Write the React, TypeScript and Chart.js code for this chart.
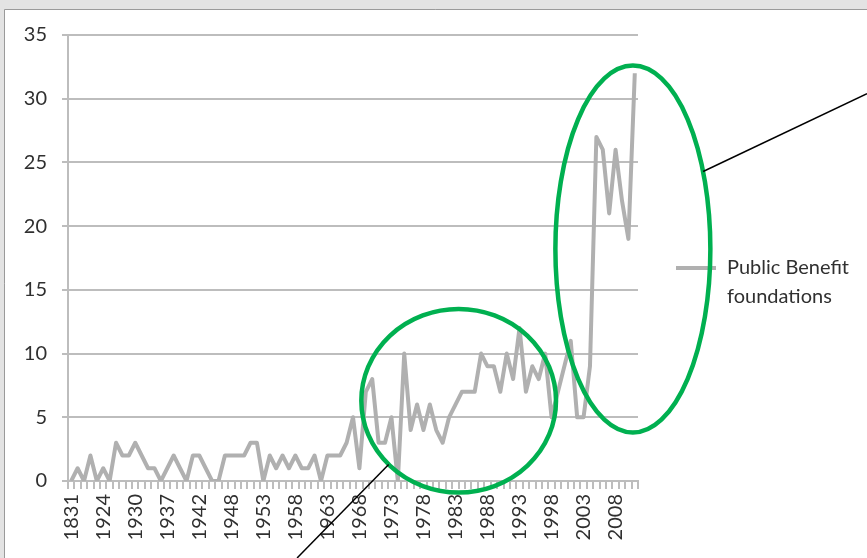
import React, { useEffect, useRef } from 'react';
import { Chart, registerables } from 'chart.js';

Chart.register(...registerables);

// ---------- data ----------
const years: string[] = [
  '1831', '1853', '1887', '1906', '1918',
  '1924', '1925', '1926', '1927', '1929',
  '1930', '1931', '1932', '1934', '1935',
  '1937', '1938', '1939', '1940', '1941',
  '1942', '1943', '1944', '1946', '1947',
  '1948', '1949', '1950', '1951', '1952',
  '1953', '1954', '1955', '1956', '1957',
  '1958', '1959', '1960', '1961', '1962',
  '1963', '1964', '1965', '1966', '1967',
  '1968', '1969', '1970', '1971', '1972',
  '1973', '1974', '1975', '1976', '1977',
  '1978', '1979', '1980', '1981', '1982',
  '1983', '1984', '1985', '1986', '1987',
  '1988', '1989', '1990', '1991', '1992',
  '1993', '1994', '1995', '1996', '1997',
  '1998', '1999', '2000', '2001', '2002',
  '2003', '2004', '2005', '2006', '2007',
  '2008', '2009', '2010', '2011',
];

const publicBenefitFoundations: number[] = [
  0, 1, 0, 2, 0,
  1, 0, 3, 2, 2,
  3, 2, 1, 1, 0,
  1, 2, 1, 0, 2,
  2, 1, 0, 0, 2,
  2, 2, 2, 3, 3,
  0, 2, 1, 2, 1,
  2, 1, 1, 2, 0,
  2, 2, 2, 3, 5,
  1, 7, 8, 3, 3,
  5, 0, 10, 4, 6,
  4, 6, 4, 3, 5,
  6, 7, 7, 7, 10,
  9, 9, 7, 10, 8,
  12, 7, 9, 8, 10,
  5, 7, 9, 11, 5,
  5, 9, 27, 26, 21,
  26, 22, 19, 32,
];

const shownYearLabels: string[] = [
  '1831', '1924', '1930', '1937', '1942', '1948', '1953', '1958', '1963',
  '1968', '1973', '1978', '1983', '1988', '1993', '1998', '2003', '2008',
];

const seriesName = 'Public Benefit foundations';
const legendLines: string[] = ['Public Benefit', 'foundations'];

const yMin = 0;
const yMax = 35;
const yStep = 5;

// highlight ellipses in data units (category index / value)
const highlights = [
  { index: 60.5, value: 6.3, radiusCategories: 15.2, radiusValue: 7.2 },
  { index: 87.7, value: 18.2, radiusCategories: 12.1, radiusValue: 14.4 },
];
// connector lines: leave ellipse at parametric angle, run to the canvas edge
const connectors = [
  { ellipse: 0, angleDeg: 136, dirX: -93, dirY: 95 },
  { ellipse: 1, angleDeg: -25, dirX: 158, dirY: -75 },
];

// ---------- styles ----------
const FONT = 'Lato, "Open Sans", "DejaVu Sans", sans-serif';
const TEXT = '#303030';
const GRID = '#bdbdbd';
const LINE = '#b0b0b0';
const GREEN = '#00b050';

const framePlugin = {
  id: 'frame',
  beforeDraw(chart: any) {
    const { ctx, width, height } = chart;
    ctx.save();
    ctx.fillStyle = '#e3e3e3';
    ctx.fillRect(0, 0, width, height);
    ctx.fillStyle = '#ffffff';
    ctx.fillRect(5, 10, width - 5, height - 10);
    ctx.strokeStyle = '#9a9a9a';
    ctx.lineWidth = 1;
    ctx.beginPath();
    ctx.moveTo(4.5, height);
    ctx.lineTo(4.5, 9.5);
    ctx.lineTo(width, 9.5);
    ctx.stroke();
    ctx.restore();
  },
};

const overlayPlugin = {
  id: 'overlay',
  afterDraw(chart: any) {
    const { ctx, chartArea, width, height } = chart;
    const xs = chart.scales.x;
    const ys = chart.scales.y;
    const x0 = xs.getPixelForValue(0);
    const catW = xs.getPixelForValue(1) - x0;
    const unitH = ys.getPixelForValue(0) - ys.getPixelForValue(1);

    // legend
    const ds = chart.data.datasets[0];
    const lx = chartArea.right + 38;
    const ly = (chartArea.top + chartArea.bottom) / 2 + 10;
    ctx.save();
    ctx.strokeStyle = ds.borderColor;
    ctx.lineWidth = 4;
    ctx.beginPath();
    ctx.moveTo(lx, ly);
    ctx.lineTo(lx + 40, ly);
    ctx.stroke();
    ctx.fillStyle = TEXT;
    ctx.font = `20px ${FONT}`;
    ctx.textBaseline = 'middle';
    ctx.textAlign = 'left';
    legendLines.forEach((t, i) => ctx.fillText(t, lx + 51, ly + i * 29));
    ctx.restore();

    // ellipses
    const geo = highlights.map((h) => ({
      cx: x0 + h.index * catW,
      cy: ys.getPixelForValue(h.value),
      rx: h.radiusCategories * catW,
      ry: h.radiusValue * unitH,
    }));
    ctx.save();
    ctx.strokeStyle = GREEN;
    ctx.lineWidth = 4.5;
    geo.forEach((g) => {
      ctx.beginPath();
      ctx.ellipse(g.cx, g.cy, g.rx, g.ry, 0, 0, Math.PI * 2);
      ctx.stroke();
    });
    ctx.restore();

    // connectors
    ctx.save();
    ctx.strokeStyle = '#000000';
    ctx.lineWidth = 1.5;
    connectors.forEach((c) => {
      const g = geo[c.ellipse];
      const t = (c.angleDeg * Math.PI) / 180;
      const sx = g.cx + g.rx * Math.cos(t);
      const sy = g.cy + g.ry * Math.sin(t);
      const kx = c.dirX > 0 ? (width - sx) / c.dirX : (0 - sx) / c.dirX;
      const ky = c.dirY > 0 ? (height - sy) / c.dirY : (0 - sy) / c.dirY;
      const k = Math.min(kx, ky);
      ctx.beginPath();
      ctx.moveTo(sx, sy);
      ctx.lineTo(sx + c.dirX * k, sy + c.dirY * k);
      ctx.stroke();
    });
    ctx.restore();
  },
};

export default function App() {
  const canvasRef = useRef<HTMLCanvasElement | null>(null);

  useEffect(() => {
    if (!canvasRef.current) return;
    const chart = new Chart(canvasRef.current, {
      type: 'line',
      data: {
        labels: years,
        datasets: [
          {
            label: seriesName,
            data: publicBenefitFoundations,
            borderColor: LINE,
            backgroundColor: LINE,
            borderWidth: 4,
            pointRadius: 0,
            tension: 0,
            borderJoinStyle: 'round',
          },
        ],
      },
      options: {
        animation: false,
        responsive: true,
        maintainAspectRatio: false,
        layout: { padding: { left: 0, right: 229, top: 35, bottom: 0 } },
        plugins: {
          legend: { display: false },
          tooltip: { enabled: false },
        },
        scales: {
          x: {
            type: 'category',
            offset: true,
            afterFit(scale: any) {
              scale.height = 77;
            },
            grid: {
              offset: true,
              drawOnChartArea: false,
              drawTicks: true,
              tickLength: 8,
              color: GRID,
              lineWidth: 2,
            },
            border: { display: true, color: GRID, width: 2 },
            ticks: {
              autoSkip: false,
              maxRotation: 90,
              minRotation: 90,
              padding: 5,
              color: TEXT,
              font: { family: FONT, size: 20 },
              callback(_v: any, idx: number) {
                const y = years[idx];
                return shownYearLabels.includes(y) ? y : '';
              },
            },
          },
          y: {
            min: yMin,
            max: yMax,
            afterFit(scale: any) {
              scale.width = 68;
            },
            grid: {
              color: GRID,
              lineWidth: 2,
              drawTicks: true,
              tickLength: 6,
            },
            border: { display: true, color: GRID, width: 2 },
            ticks: {
              stepSize: yStep,
              padding: 15,
              color: TEXT,
              font: { family: FONT, size: 20 },
            },
          },
        },
      },
      plugins: [framePlugin, overlayPlugin],
    });
    return () => chart.destroy();
  }, []);

  return (
    <div style={{ position: 'fixed', left: 0, top: 0, width: 867, height: 558 }}>
      <canvas ref={canvasRef} />
    </div>
  );
}
